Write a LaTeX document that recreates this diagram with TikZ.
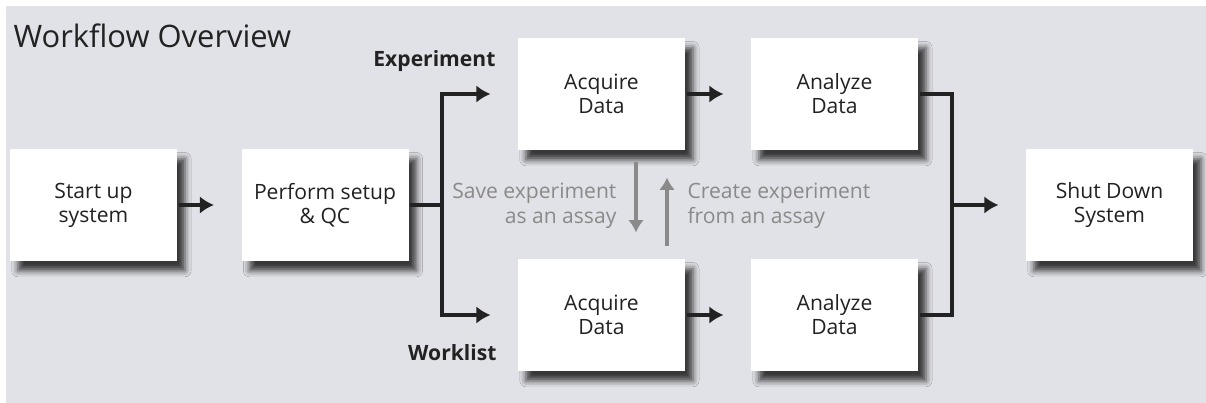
\documentclass[tikz,border=0pt]{standalone}
\usepackage{fontspec}
\setmainfont{Open Sans}
\usetikzlibrary{arrows.meta,positioning,shadows.blur}
\definecolor{panelgray}{HTML}{E1E2E7}
\definecolor{notegray}{HTML}{8A8A8A}
\definecolor{inkblack}{HTML}{222222}

\begin{document}
\begin{tikzpicture}[>=Latex, line width=1.8pt, color=inkblack,
    stepbox/.style={fill=white, minimum width=3.34cm, minimum height=2.24cm,
      inner sep=0pt, align=center, font=\fontsize{12}{13.6}\selectfont,
      blur shadow={shadow xshift=4.5pt, shadow yshift=-5.5pt,
        shadow blur radius=3.5pt, shadow opacity=75}},
    flow/.style={-{Latex[length=8pt,width=10pt]}, shorten >=.52cm},
    swaparrow/.style={-{Latex[length=7pt,width=9pt]}, draw=notegray, line width=2pt},
    note/.style={text=notegray, inner sep=0pt, font=\fontsize{12}{14.2}\selectfont},
    branchlabel/.style={inner sep=0pt, font=\fontsize{12}{14}\selectfont\bfseries}]
  \useasboundingbox (0,0) rectangle (24.12,8.06);
  \fill[panelgray] (.12,0) rectangle (24.12,7.94);
  \node[anchor=base west, inner sep=0pt, font=\fontsize{17.6}{20}\selectfont] (title)
    at (.24,7.10) {Workflow Overview};

  % main line
  \node[stepbox] (start) at (1.87,3.96) {Start up\\system};
  \node[stepbox] (setup) at (6.50,3.96) {Perform setup\\\& QC};
  \node[stepbox] (shut) at (22.19,3.96) {Shut Down\\System};

  % two branches
  \node[stepbox] (acqE) at (12.03,6.18) {Acquire\\Data};
  \node[stepbox] (anaE) at (16.69,6.18) {Analyze\\Data};
  \node[stepbox] (acqW) at (12.03,1.76) {Acquire\\Data};
  \node[stepbox] (anaW) at (16.69,1.76) {Analyze\\Data};
  \node[branchlabel, anchor=base east] (expLabel) at (9.94,6.72) {Experiment};
  \node[branchlabel, anchor=base east] (wlLabel) at (9.96,.84) {Worklist};

  \coordinate (split) at (8.84,3.96);
  \coordinate (merge) at (19.04,3.96);
  \draw[flow] (start) -- (setup);
  \draw (setup) -- (split);
  \draw[flow] (split) |- (acqE);
  \draw[flow] (split) |- (acqW);
  \draw[flow] (acqE) -- (anaE);
  \draw[flow] (acqW) -- (anaW);
  \draw (anaE) -| (merge);
  \draw (anaW) -| (merge);
  \draw[flow] (merge) -- (shut);

  % experiment <-> assay
  \draw[swaparrow, shorten <=.2cm, shorten >=.5cm]
    ([xshift=.69cm]acqE.south) -- ([xshift=.69cm]acqW.north);
  \draw[swaparrow, shorten <=.22cm, shorten >=.52cm]
    ([xshift=1.31cm]acqW.north) -- ([xshift=1.31cm]acqE.south);
  \node[note, anchor=east, align=right] (saveNote) at (12.36,3.95)
    {Save experiment\\as an assay};
  \node[note, anchor=west, align=left] (createNote) at (13.72,3.95)
    {Create experiment\\from an assay};
\end{tikzpicture}
\end{document}
